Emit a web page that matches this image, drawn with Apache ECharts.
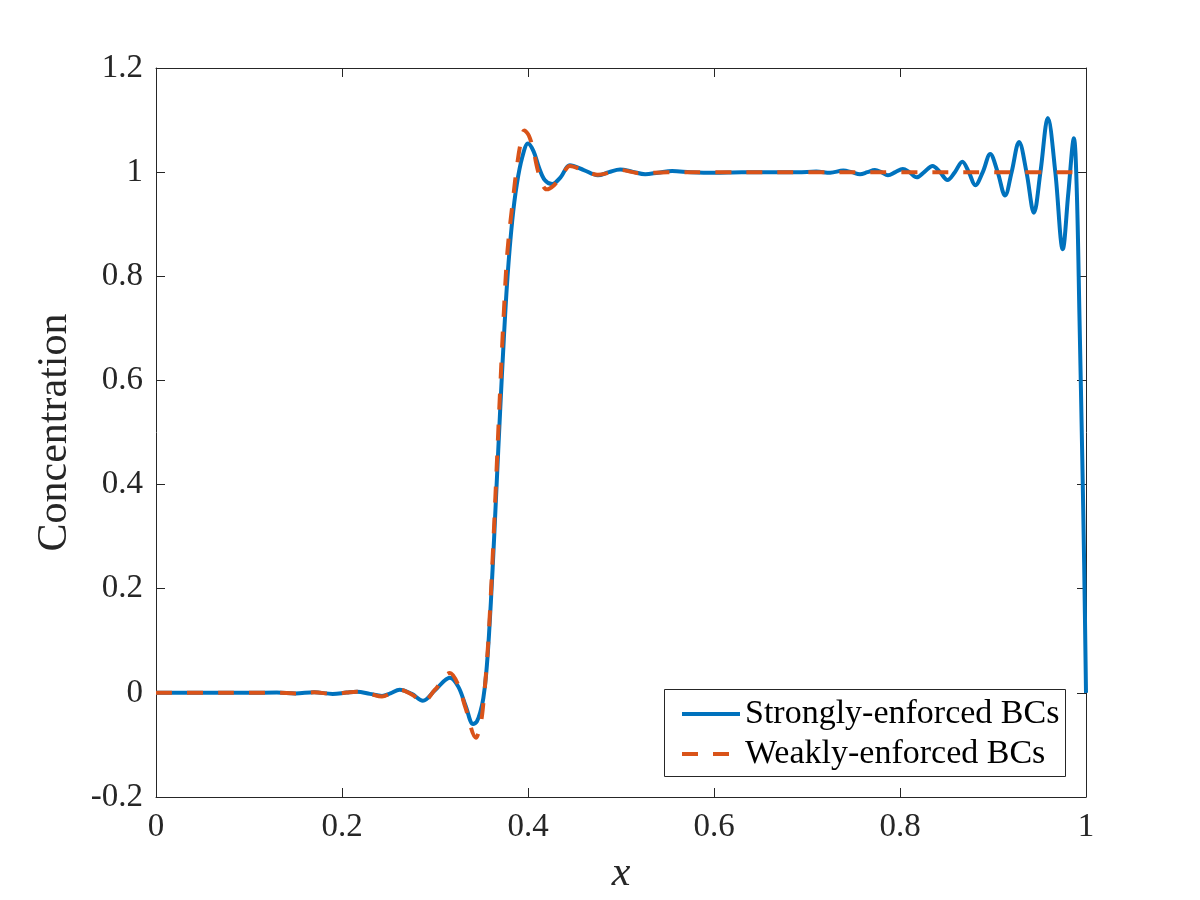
<!DOCTYPE html>
<html>
<head>
<meta charset="utf-8">
<script src="https://cdn.jsdelivr.net/npm/echarts@6/dist/echarts.min.js"></script>
<style>
html,body{margin:0;padding:0;background:#fff;}
#chart{width:1200px;height:900px;}
</style>
</head>
<body>
<div id="chart"></div>
<script>
// ---- Data ----
const seriesNames = ['Strongly-enforced BCs', 'Weakly-enforced BCs'];
const xTicks = [0, 0.2, 0.4, 0.6, 0.8, 1];
const yTicks = [-0.2, 0, 0.2, 0.4, 0.6, 0.8, 1, 1.2];

const strongX = [0, 0.05, 0.1, 0.13, 0.15, 0.17, 0.19, 0.205, 0.216, 0.23, 0.243, 0.252, 0.262, 0.275, 0.287, 0.3, 0.316, 0.325, 0.333, 0.341, 0.345, 0.349, 0.352, 0.355, 0.358, 0.362, 0.366, 0.37, 0.374, 0.378, 0.383, 0.388, 0.394, 0.4, 0.406, 0.412, 0.418, 0.426, 0.435, 0.445, 0.46, 0.475, 0.487, 0.499, 0.512, 0.526, 0.54, 0.555, 0.575, 0.6, 0.63, 0.66, 0.69, 0.71, 0.725, 0.739, 0.748, 0.757, 0.765, 0.773, 0.78, 0.787, 0.795, 0.803, 0.81, 0.818, 0.826, 0.835, 0.843, 0.851, 0.859, 0.867, 0.874, 0.881, 0.889, 0.897, 0.905, 0.913, 0.92, 0.928, 0.936, 0.944, 0.951, 0.959, 0.967, 0.975, 0.981, 0.987, 0.99, 0.993, 0.996, 0.998, 1.0];
const strongY = [0, 0, 0, 0.0005, -0.001, 0.001, -0.002, 0.0005, 0.002, -0.002, -0.006, -0.001, 0.006, -0.002, -0.015, 0.005, 0.029, 0.012, -0.025, -0.06, -0.055, -0.035, -0.01, 0.036, 0.11, 0.24, 0.39, 0.54, 0.68, 0.8, 0.906, 0.977, 1.03, 1.055, 1.04, 1.008, 0.985, 0.977, 0.99, 1.013, 1.004, 0.994, 1.0, 1.005, 1.001, 0.996, 0.999, 1.002, 1.0, 0.999, 1.0, 1.0, 1.0, 1.001, 0.999, 1.003, 1.0, 0.996, 1.0, 1.004, 1.0, 0.994, 1.0, 1.006, 1.0, 0.99, 1.0, 1.012, 1.0, 0.985, 1.0, 1.02, 1.0, 0.975, 1.0, 1.035, 1.0, 0.955, 1.0, 1.058, 1.0, 0.922, 1.0, 1.104, 1.0, 0.852, 0.96, 1.065, 0.97, 0.72, 0.45, 0.25, 0];

const weakX = [0, 0.05, 0.1, 0.13, 0.15, 0.17, 0.19, 0.205, 0.216, 0.23, 0.243, 0.252, 0.262, 0.275, 0.287, 0.3, 0.316, 0.325, 0.333, 0.344, 0.349, 0.352, 0.355, 0.358, 0.362, 0.366, 0.37, 0.374, 0.378, 0.384, 0.388, 0.392, 0.396, 0.401, 0.406, 0.412, 0.42, 0.428, 0.437, 0.445, 0.46, 0.475, 0.49, 0.5, 0.52, 0.55, 0.6, 0.7, 0.8, 0.9, 1.0];
const weakY = [0, 0, 0, 0.0005, -0.001, 0.001, -0.002, 0.0005, 0.002, -0.002, -0.007, -0.001, 0.006, -0.003, -0.017, 0.006, 0.038, 0.015, -0.03, -0.086, -0.06, -0.02, 0.04, 0.12, 0.26, 0.42, 0.58, 0.73, 0.85, 0.95, 1.01, 1.055, 1.08, 1.07, 1.04, 0.995, 0.967, 0.975, 0.995, 1.012, 1.003, 0.995, 1.0, 1.004, 0.998, 1.0, 1.0, 1.0, 1.0, 1.0, 1.0];

const pairs = (xs, ys) => xs.map((x, i) => [x, ys[i]]);

const FONT = '"Liberation Serif", "DejaVu Serif", serif';
const AX = '#262626';
const BLUE = '#0072BD';
const ORANGE = '#D95319';
const DASH = [16, 15];

const chart = echarts.init(document.getElementById('chart'), null, {renderer: 'canvas'});

const baseX = {
  type: 'value', min: 0, max: 1, interval: 0.2,
  axisLine: {show: true, onZero: false, lineStyle: {color: AX, width: 1}},
  axisTick: {show: true, inside: true, length: 9, lineStyle: {color: AX}},
  splitLine: {show: false}
};
const baseY = {
  type: 'value', min: -0.2, max: 1.2, interval: 0.2,
  axisLine: {show: true, onZero: false, lineStyle: {color: AX, width: 1}},
  axisTick: {show: true, inside: true, length: 9, lineStyle: {color: AX}},
  splitLine: {show: false}
};

chart.setOption({
  animation: false,
  backgroundColor: '#ffffff',
  grid: {left: 156, right: 114, top: 68, bottom: 103, containLabel: false},
  xAxis: [
    Object.assign({}, baseX, {
      position: 'bottom',
      name: 'x', nameLocation: 'middle', nameGap: 56,
      nameTextStyle: {fontFamily: FONT, fontStyle: 'italic', fontSize: 42, color: AX},
      axisLabel: {show: true, margin: 14, fontFamily: FONT, fontSize: 33, color: AX,
        formatter: v => { const t = xTicks.find(k => Math.abs(k - v) < 1e-9); return t === undefined ? '' : String(t); }}
    }),
    Object.assign({}, baseX, {position: 'top', axisLabel: {show: false}})
  ],
  yAxis: [
    Object.assign({}, baseY, {
      position: 'left',
      name: 'Concentration', nameLocation: 'middle', nameGap: 80, nameRotate: 90,
      nameTextStyle: {fontFamily: FONT, fontSize: 42, color: AX},
      axisLabel: {show: true, margin: 13, fontFamily: FONT, fontSize: 33, color: AX,
        formatter: v => { const t = yTicks.find(k => Math.abs(k - v) < 1e-9); return t === undefined ? '' : String(t); }}
    }),
    Object.assign({}, baseY, {position: 'right', axisLabel: {show: false}})
  ],
  legend: {
    show: true,
    data: [
      {name: seriesNames[0], itemStyle: {opacity: 0}, lineStyle: {color: BLUE, width: 4, type: 'solid'}},
      {name: seriesNames[1], itemStyle: {opacity: 0}, lineStyle: {color: ORANGE, width: 4, type: DASH}}
    ],
    orient: 'vertical',
    left: 680, top: 697,
    padding: 0,
    itemWidth: 58, itemHeight: 32, itemGap: 6,
    textStyle: {fontFamily: FONT, fontSize: 34, color: '#000', lineHeight: 32},
    z: 20
  },
  graphic: [{
    type: 'rect', z: 15, silent: true,
    shape: {x: 664.5, y: 689.5, width: 401, height: 87},
    style: {fill: '#ffffff', stroke: AX, lineWidth: 1}
  }],
  series: [
    {
      name: seriesNames[0], type: 'line', xAxisIndex: 0, yAxisIndex: 0,
      data: pairs(strongX, strongY), symbol: 'none', smooth: 0.35,
      lineStyle: {color: BLUE, width: 4}, itemStyle: {color: BLUE}, z: 3
    },
    {
      name: seriesNames[1], type: 'line', xAxisIndex: 0, yAxisIndex: 0,
      data: pairs(weakX, weakY), symbol: 'none', smooth: 0.35,
      lineStyle: {color: ORANGE, width: 4, type: DASH}, itemStyle: {color: ORANGE}, z: 4
    }
  ]
});
</script>
</body>
</html>
